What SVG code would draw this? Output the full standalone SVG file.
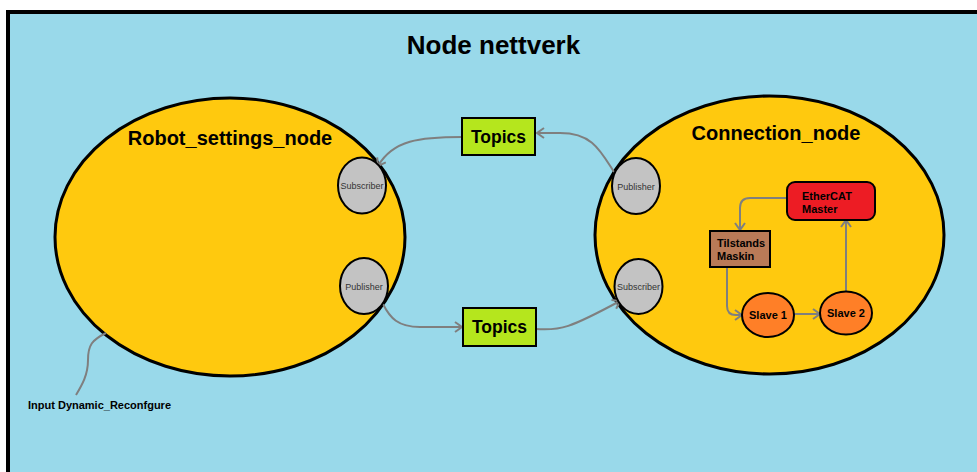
<svg xmlns="http://www.w3.org/2000/svg" width="977" height="472" viewBox="0 0 977 472">
<defs>
<style>
.big{fill:#FFC90E;stroke:#000;stroke-width:3}
.port{fill:#C3C3C3;stroke:#000;stroke-width:2}
.portt{font-family:"Liberation Sans",Arial,sans-serif;font-size:9px;fill:#333;text-anchor:middle}
.b{font-family:"Liberation Sans",Arial,sans-serif;font-weight:bold;fill:#000}
.con{fill:none;stroke:#7F7F7F;stroke-width:2}
.slave{fill:#FF7F27;stroke:#000;stroke-width:2}
</style>
<marker id="ah" markerWidth="12" markerHeight="12" refX="9" refY="6" orient="auto" markerUnits="userSpaceOnUse">
<path d="M2,1 L9,6 L2,11" fill="none" stroke="#7F7F7F" stroke-width="2"/>
</marker>
</defs>
<rect x="0" y="0" width="977" height="472" fill="#fff"/>
<rect x="8" y="12" width="1000" height="500" fill="#99D9EA" stroke="#000" stroke-width="4"/>
<text class="b" x="493.5" y="54" font-size="26" text-anchor="middle">Node nettverk</text>

<g id="robot_settings_node">
<ellipse class="big" cx="230" cy="237" rx="175" ry="139"/>
<text class="b" x="230" y="145" font-size="20" text-anchor="middle">Robot_settings_node</text>
</g>
<g id="connection_node">
<ellipse class="big" cx="769.5" cy="235" rx="174.5" ry="139"/>
<text class="b" x="776" y="140" font-size="20" text-anchor="middle">Connection_node</text>
</g>

<g id="connectors">
<path class="con" d="M614,172 C600,150 592,133 560,133 L537,133" marker-end="url(#ah)"/>
<path class="con" d="M462,137 C420,137 393,140 378,166" marker-end="url(#ah)"/>
<path class="con" d="M383,304 C390,318 398,327 420,327 L462,327" marker-end="url(#ah)"/>
<path class="con" d="M536,329 C560,331 570,328 620,301" marker-end="url(#ah)"/>
<path class="con" d="M106,333 C92,340 88,345 88,360 C88,375 82,385 76,395"/>
<path class="con" d="M787,198 L750,198 Q740,198 740,208 L740,230" marker-end="url(#ah)"/>
<path class="con" d="M727,267 L727,306 Q727,315 736,315 L742,315" marker-end="url(#ah)"/>
<path class="con" d="M794,314 L820,314" marker-end="url(#ah)"/>
<path class="con" d="M846,292 L846,220" marker-end="url(#ah)"/>
</g>

<g id="subscriber_left">
<ellipse class="port" cx="362" cy="185.5" rx="24" ry="28"/>
<text class="portt" x="362" y="189">Subscriber</text>
</g>
<g id="publisher_left">
<ellipse class="port" cx="364" cy="286" rx="24" ry="28"/>
<text class="portt" x="364" y="289.5">Publisher</text>
</g>
<g id="publisher_right">
<ellipse class="port" cx="636" cy="186" rx="24" ry="28"/>
<text class="portt" x="636" y="189.5">Publisher</text>
</g>
<g id="subscriber_right">
<ellipse class="port" cx="638.5" cy="286.5" rx="24" ry="27.5"/>
<text class="portt" x="638.5" y="290">Subscriber</text>
</g>

<g id="topics_top">
<rect x="462" y="118" width="73" height="37" fill="#B5E61D" stroke="#000" stroke-width="2"/>
<text class="b" x="498.5" y="142.5" font-size="17.5" text-anchor="middle">Topics</text>
</g>
<g id="topics_bottom">
<rect x="463" y="308" width="73" height="38" fill="#B5E61D" stroke="#000" stroke-width="2"/>
<text class="b" x="499.5" y="332.5" font-size="17.5" text-anchor="middle">Topics</text>
</g>

<g id="ethercat_master">
<rect x="787" y="182" width="88" height="38" rx="8" fill="#ED1C24" stroke="#000" stroke-width="2"/>
<text class="b" x="802" y="200" font-size="11">EtherCAT</text>
<text class="b" x="802" y="212.5" font-size="11">Master</text>
</g>
<g id="tilstands_maskin">
<rect x="710" y="231" width="60" height="36" fill="#B97A57" stroke="#000" stroke-width="2"/>
<text class="b" x="717" y="246.5" font-size="11">Tilstands</text>
<text class="b" x="717" y="259.5" font-size="11">Maskin</text>
</g>
<g id="slave1">
<ellipse class="slave" cx="768" cy="315" rx="26" ry="22"/>
<text class="b" x="768" y="319" font-size="11" text-anchor="middle">Slave 1</text>
</g>
<g id="slave2">
<ellipse class="slave" cx="846" cy="313" rx="26" ry="21.5"/>
<text class="b" x="846" y="317" font-size="11" text-anchor="middle">Slave 2</text>
</g>

<g id="input_label">
<text class="b" x="28" y="409" font-size="11">Input Dynamic_Reconfgure</text>
</g>
</svg>
